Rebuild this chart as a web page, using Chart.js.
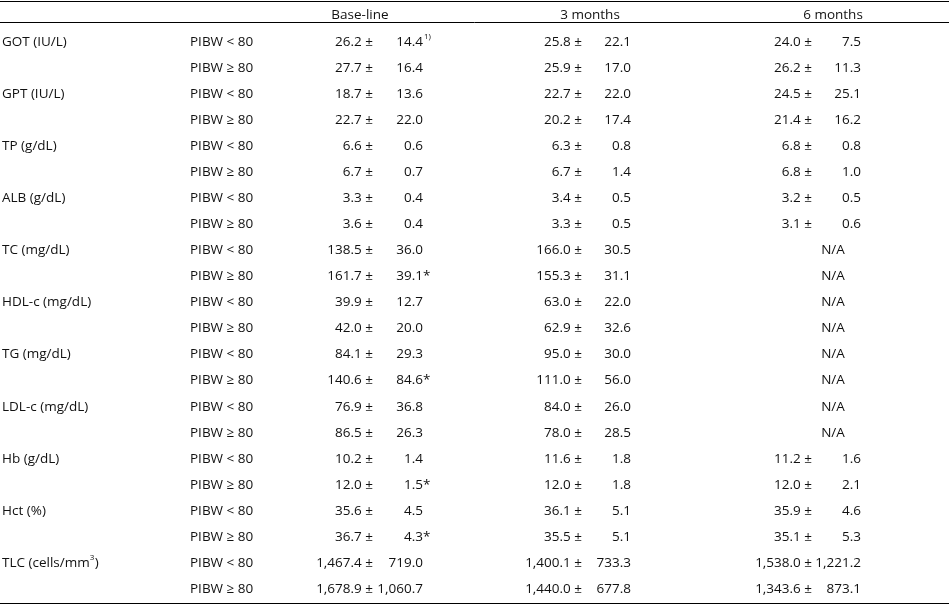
<!DOCTYPE html>
<html>
<head>
<meta charset="utf-8">
<script src="https://cdn.jsdelivr.net/npm/chart.js@4"></script>
<style>
  body { margin: 0; background: #fff; }
</style>
</head>
<body>
<canvas id="tbl" width="949" height="604"></canvas>
<script>
// table contents
var headers = ["Base-line", "3 months", "6 months"];
var variables = ["GOT (IU/L)", "GPT (IU/L)", "TP (g/dL)", "ALB (g/dL)", "TC (mg/dL)", "HDL-c (mg/dL)",
    "TG (mg/dL)", "LDL-c (mg/dL)", "Hb (g/dL)", "Hct (%)", "TLC (cells/mm3)"];
var groups = ["PIBW < 80", "PIBW \u2265 80"];

var baseMean = [26.2, 27.7, 18.7, 22.7, 6.6, 6.7, 3.3, 3.6, 138.5, 161.7, 39.9, 42.0, 84.1, 140.6, 76.9, 86.5, 10.2, 12.0, 35.6, 36.7, 1467.4, 1678.9];
var baseSd = [14.4, 16.4, 13.6, 22.0, 0.6, 0.7, 0.4, 0.4, 36.0, 39.1, 12.7, 20.0, 29.3, 84.6, 36.8, 26.3, 1.4, 1.5, 4.5, 4.3, 719.0, 1060.7];
var baseSig = ["1)", "", "", "", "", "", "", "", "", "*", "", "", "", "*", "", "", "", "*", "", "*", "", ""];
var m3Mean = [25.8, 25.9, 22.7, 20.2, 6.3, 6.7, 3.4, 3.3, 166.0, 155.3, 63.0, 62.9, 95.0, 111.0, 84.0, 78.0, 11.6, 12.0, 36.1, 35.5, 1400.1, 1440.0];
var m3Sd = [22.1, 17.0, 22.0, 17.4, 0.8, 1.4, 0.5, 0.5, 30.5, 31.1, 22.0, 32.6, 30.0, 56.0, 26.0, 28.5, 1.8, 1.8, 5.1, 5.1, 733.3, 677.8];
var m6Mean = [24.0, 26.2, 24.5, 21.4, 6.8, 6.8, 3.2, 3.1, null, null, null, null, null, null, null, null, 11.2, 12.0, 35.9, 35.1, 1538.0, 1343.6];
var m6Sd = [7.5, 11.3, 25.1, 16.2, 0.8, 1.0, 0.5, 0.6, null, null, null, null, null, null, null, null, 1.6, 2.1, 4.6, 5.3, 1221.2, 873.1];

var fmt = function (v) {
    return v.toLocaleString('en-US', { minimumFractionDigits: 1, maximumFractionDigits: 1 });
};

var FONT = '13.5px "Open Sans", sans-serif';
var SMALL = '8px "Open Sans", sans-serif';

var tablePlugin = {
    id: 'tablePlugin',
    afterDraw: function (chart) {
        var ctx = chart.ctx;
        var x = chart.scales.x, y = chart.scales.y;
        var X = function (v) { return x.getPixelForValue(v); };
        var Y = function (v) { return y.getPixelForValue(v); };
        ctx.save();
        ctx.fillStyle = '#111';
        ctx.strokeStyle = '#000';
        ctx.textBaseline = 'middle';

        // rules
        [[-1.57, 1.2], [-0.77, 1], [21.53, 1.2]].forEach(function (r) {
            ctx.lineWidth = r[1];
            ctx.beginPath();
            ctx.moveTo(X(0), Math.round(Y(r[0])) + 0.5);
            ctx.lineTo(X(949), Math.round(Y(r[0])) + 0.5);
            ctx.stroke();
        });

        ctx.font = FONT;
        ctx.textAlign = 'center';
        [360, 590, 833].forEach(function (cx, i) { ctx.fillText(headers[i], X(cx), Y(-1.02)); });

        var pair = function (mean, sd, sig, row, pmX, sdX) {
            ctx.font = FONT;
            ctx.textAlign = 'right';
            ctx.fillText(fmt(mean) + ' \u00b1', X(pmX), Y(row));
            ctx.fillText(fmt(sd), X(sdX), Y(row));
            if (sig === '*') {
                ctx.textAlign = 'left';
                ctx.fillText('*', X(sdX), Y(row));
            } else if (sig) {
                ctx.textAlign = 'left';
                ctx.font = SMALL;
                ctx.fillText(sig, X(sdX + 1), Y(row) - 5);
            }
        };

        for (var i = 0; i < baseMean.length; i++) {
            ctx.font = FONT;
            ctx.textAlign = 'left';
            if (i % 2 === 0) {
                var name = variables[i / 2];
                if (name.slice(-2) === '3)') {
                    var body = name.slice(0, -2);
                    ctx.fillText(body, X(2), Y(i));
                    var w = ctx.measureText(body).width;
                    ctx.font = SMALL;
                    ctx.fillText('3', X(2) + w, Y(i) - 5);
                    ctx.font = FONT;
                    ctx.fillText(')', X(2) + w + 5, Y(i));
                } else {
                    ctx.fillText(name, X(2), Y(i));
                }
            }
            ctx.fillText(groups[i % 2], X(190), Y(i));
            pair(baseMean[i], baseSd[i], baseSig[i], i, 373, 423);
            pair(m3Mean[i], m3Sd[i], '', i, 582, 631);
            if (m6Mean[i] === null) {
                ctx.font = FONT;
                ctx.textAlign = 'center';
                ctx.fillText('N/A', X(833), Y(i));
            } else {
                pair(m6Mean[i], m6Sd[i], '', i, 812, 861);
            }
        }
        ctx.restore();
    }
};

new Chart(document.getElementById('tbl').getContext('2d'), {
    type: 'scatter',
    data: { datasets: [{ data: [] }] },
    options: {
        responsive: false,
        animation: false,
        layout: { padding: 0 },
        plugins: { legend: { display: false }, tooltip: { enabled: false } },
        scales: {
            x: { type: 'linear', min: 0, max: 949, display: false },
            y: { type: 'linear', min: -1.612, max: 21.576, reverse: true, display: false }
        }
    },
    plugins: [tablePlugin]
});
</script>
</body>
</html>
